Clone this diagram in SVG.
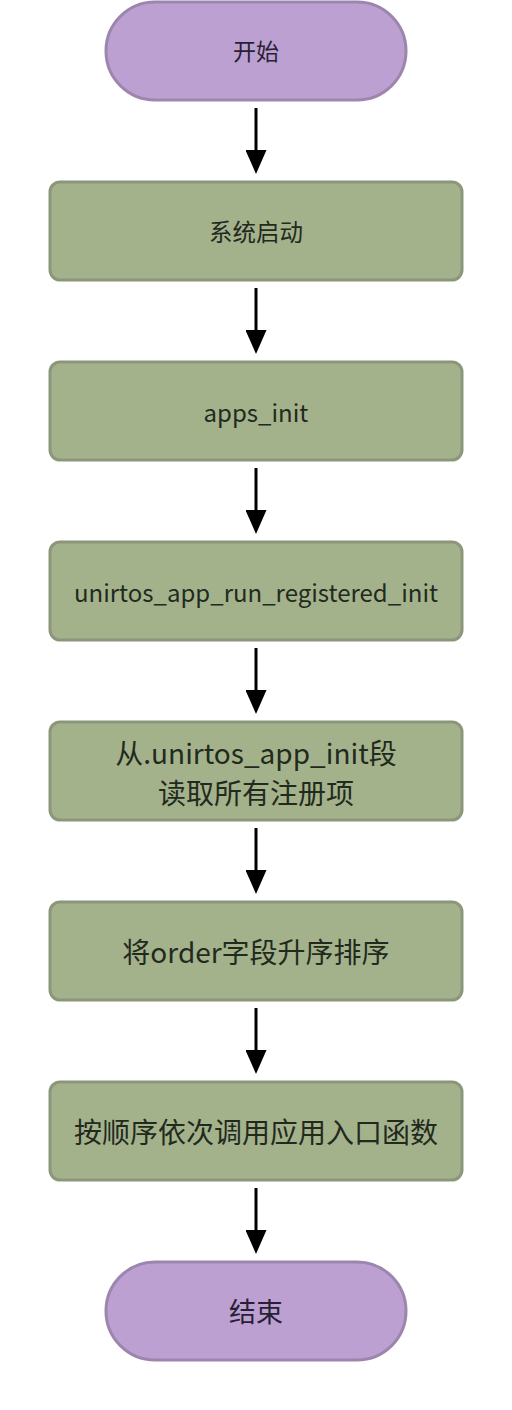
<svg xmlns="http://www.w3.org/2000/svg" width="512" height="1410" viewBox="0 0 512 1410">
<style>
.term{fill:#bca0d2;stroke:#9c86ae;stroke-width:3}
.proc{fill:#a4b28c;stroke:#8c967a;stroke-width:3}
.t{font-family:"Noto Sans CJK SC","Noto Sans",sans-serif;text-anchor:middle;dominant-baseline:central;fill:#222a1e}
.tp{fill:#2a1f33}
.c{stroke:#000;stroke-width:3;fill:none}
</style>
<defs>
<marker id="ah" markerWidth="8" markerHeight="7" refX="0" refY="3.5" orient="auto" markerUnits="strokeWidth">
<path d="M0,0 L8,3.5 L0,7 Z" fill="#000"/>
</marker>
</defs>
<rect width="512" height="1410" fill="#fff"/>
<g id="connectors">
<line class="c" x1="256" y1="108" x2="256" y2="150" marker-end="url(#ah)"/>
<line class="c" x1="256" y1="288" x2="256" y2="330" marker-end="url(#ah)"/>
<line class="c" x1="256" y1="468" x2="256" y2="510" marker-end="url(#ah)"/>
<line class="c" x1="256" y1="648" x2="256" y2="690" marker-end="url(#ah)"/>
<line class="c" x1="256" y1="828" x2="256" y2="870" marker-end="url(#ah)"/>
<line class="c" x1="256" y1="1008" x2="256" y2="1050" marker-end="url(#ah)"/>
<line class="c" x1="256" y1="1188" x2="256" y2="1230" marker-end="url(#ah)"/>
</g>
<g id="start">
<rect class="term" x="106" y="2" width="300" height="98" rx="49"/>
<text class="t tp" x="256" y="50" font-size="23">开始</text>
</g>
<g id="boot">
<rect class="proc" x="50" y="182" width="412" height="98" rx="10"/>
<text class="t" x="256" y="231" font-size="23.5">系统启动</text>
</g>
<g id="apps_init">
<rect class="proc" x="50" y="362" width="412" height="98" rx="10"/>
<text class="t" x="256" y="411" font-size="24">apps_init</text>
</g>
<g id="run_registered">
<rect class="proc" x="50" y="542" width="412" height="98" rx="10"/>
<text class="t" x="256" y="591" font-size="24">unirtos_app_run_registered_init</text>
</g>
<g id="read">
<rect class="proc" x="50" y="722" width="412" height="98" rx="10"/>
<text class="t" x="256" y="752" font-size="28">从.unirtos_app_init段</text>
<text class="t" x="256" y="792" font-size="28">读取所有注册项</text>
</g>
<g id="sort">
<rect class="proc" x="50" y="902" width="412" height="98" rx="10"/>
<text class="t" x="256" y="951" font-size="28">将order字段升序排序</text>
</g>
<g id="call">
<rect class="proc" x="50" y="1082" width="412" height="98" rx="10"/>
<text class="t" x="256" y="1131" font-size="28">按顺序依次调用应用入口函数</text>
</g>
<g id="end">
<rect class="term" x="106" y="1262" width="300" height="98" rx="49"/>
<text class="t tp" x="256" y="1310" font-size="27">结束</text>
</g>
</svg>
